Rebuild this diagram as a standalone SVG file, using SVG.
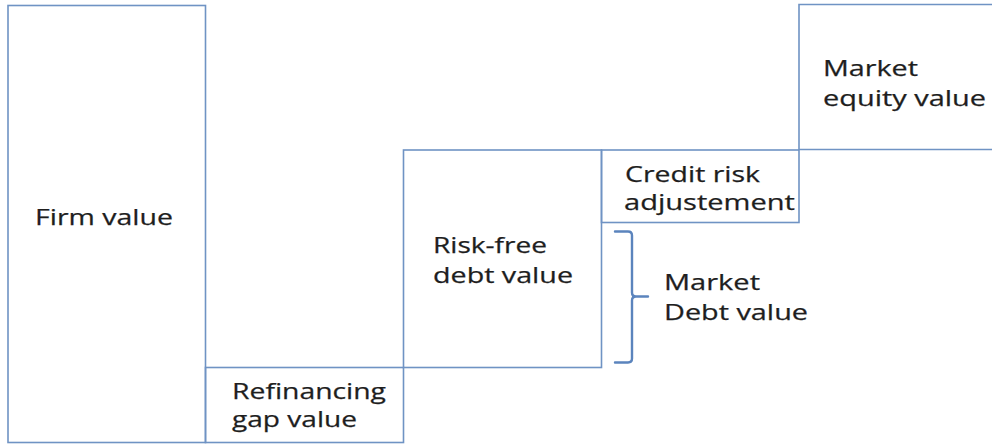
<svg xmlns="http://www.w3.org/2000/svg" width="992" height="444" viewBox="0 0 992 444">
<style>
.box{fill:none;stroke:#6f93c4;stroke-width:1.6}
.br{fill:none;stroke:#5b84bd;stroke-width:2.4;stroke-linecap:round}
text{font-family:"Open Sans","Noto Sans","Liberation Sans",sans-serif;font-size:22.5px;fill:#1e1e1e;stroke:#1e1e1e;stroke-width:0.25}
</style>
<rect width="992" height="444" fill="#ffffff"/>
<g id="firm">
<rect class="box" x="8" y="5.5" width="197.5" height="437"/>
<text x="35" y="225" textLength="138" lengthAdjust="spacingAndGlyphs">Firm value</text>
</g>
<g id="refinancing">
<rect class="box" x="205.5" y="367.5" width="198" height="75"/>
<text x="232" y="399" textLength="154" lengthAdjust="spacingAndGlyphs">Refinancing</text>
<text x="232" y="427" textLength="125" lengthAdjust="spacingAndGlyphs">gap value</text>
</g>
<g id="riskfree">
<rect class="box" x="403.5" y="150" width="198" height="217.5"/>
<text x="433" y="253" textLength="114" lengthAdjust="spacingAndGlyphs">Risk-free</text>
<text x="433" y="283" textLength="140" lengthAdjust="spacingAndGlyphs">debt value</text>
</g>
<g id="credit">
<rect class="box" x="601.5" y="150" width="197.5" height="72.5"/>
<text x="625" y="181.5" textLength="135" lengthAdjust="spacingAndGlyphs">Credit risk</text>
<text x="624" y="210" textLength="171" lengthAdjust="spacingAndGlyphs">adjustement</text>
</g>
<g id="equity">
<path class="box" d="M992 4.5 H799 V149.5 H992"/>
<text x="823" y="76" textLength="95" lengthAdjust="spacingAndGlyphs">Market</text>
<text x="823" y="106" textLength="163" lengthAdjust="spacingAndGlyphs">equity value</text>
</g>
<g id="marketdebt">
<text x="664" y="290" textLength="96" lengthAdjust="spacingAndGlyphs">Market</text>
<text x="664" y="320" textLength="144" lengthAdjust="spacingAndGlyphs">Debt value</text>
</g>
<g id="connectors">
<path class="br" d="M615 231.5 H628 Q632 231.5 632 235.5 V292.5 Q632 296.5 636 296.5 H648 M636 296.5 Q632 296.5 632 300.5 V358.5 Q632 362.5 628 362.5 H615"/>
</g>
</svg>
